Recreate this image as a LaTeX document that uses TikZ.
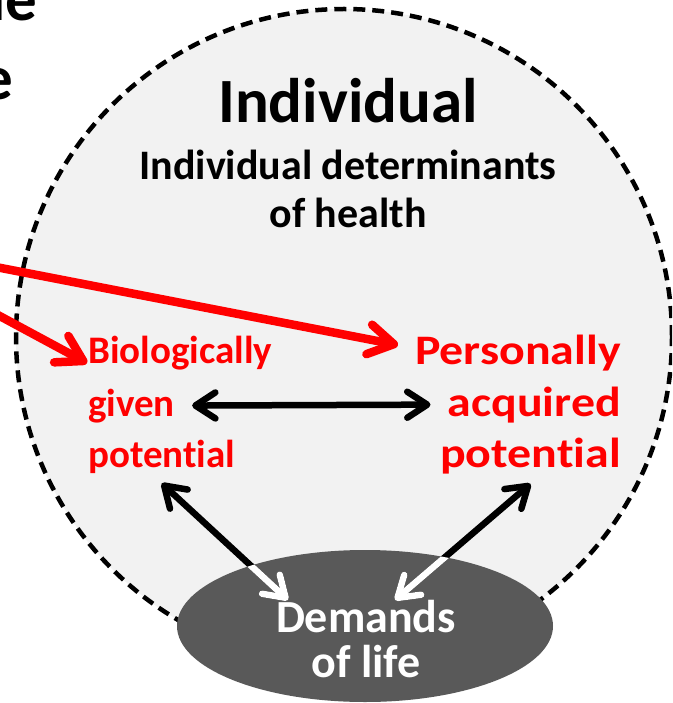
\documentclass[tikz,border=0pt]{standalone}
\usepackage{fontspec}
\setmainfont{Carlito}[Ligatures=CommonOff]
\newfontfamily\widefont{Carlito}[FakeStretch=1.14, Ligatures=CommonOff]
\usetikzlibrary{arrows.meta,shapes.geometric}

\definecolor{circlegray}{HTML}{F2F2F2}
\definecolor{demandgray}{HTML}{595959}
\definecolor{potred}{HTML}{FF0000}

\tikzset{
  redlabel/.style={text=potred, inner sep=0pt, font=\fontsize{39}{47}\selectfont\bfseries},
  wideredlabel/.style={text=potred, inner sep=0pt, font=\widefont\fontsize{42}{50}\selectfont\bfseries},
  titlelabel/.style={inner sep=0pt, font=\fontsize{63}{76}\selectfont\bfseries},
  sublabel/.style={inner sep=0pt, font=\fontsize{42}{50}\selectfont\bfseries},
  demandlabel/.style={text=white, inner sep=0pt, font=\fontsize{46}{55}\selectfont\bfseries},
  redbarb/.tip={Straight Barb[length=25pt,width=30pt,line cap=round,line join=round]},
  blackbarb/.tip={Straight Barb[length=20pt,width=26pt,line cap=round,line join=round]},
  redarrow/.style={draw=potred, line width=8.5pt, line cap=round, -redbarb},
  twoway/.style={line width=6.5pt, blackbarb-blackbarb},
}

\begin{document}
\begin{tikzpicture}[x=1pt,y=-1pt]

  \useasboundingbox (0,0) rectangle (672,703);
  \clip (0,0) rectangle (672,703);

  \node[titlelabel, anchor=base east] (cutone) at (37,21) {ne};
  \node[titlelabel, anchor=base east] (cuttwo) at (13,100) {e};

  \draw[fill=circlegray, line width=4.5pt, dash pattern=on 12pt off 7pt] (344,337) circle [radius=328pt];

  \node[titlelabel, anchor=base] (indiv) at (348,123) {Individual};
  \node[sublabel, anchor=base] (determ) at (348,180) {Individual determinants};
  \node[sublabel, anchor=base] (health) at (348,228) {of health};

  \node[redlabel, anchor=base west] (bioA) at (88,363) {Biologically};
  \node[redlabel, anchor=base west] (bioB) at (88,416) {given};
  \node[redlabel, anchor=base west] (bioC) at (88,467) {potential};

  \node[wideredlabel, anchor=base east] (persA) at (621,364) {Personally};
  \node[wideredlabel, anchor=base east] (persB) at (621,416) {acquired};
  \node[wideredlabel, anchor=base east] (persC) at (621,467) {potential};

  \coordinate (srcA) at (-30,262);
  \coordinate (srcB) at (-30,300);
  \draw[redarrow] (srcA) -- ([shift={(-17pt,19pt)}]persA.base west);
  \draw[redarrow] (srcB) -- ([xshift=-1pt]bioA.base west);

  \draw[twoway, shorten <=17pt, shorten >=17pt] (bioB.east) -- (persB.west);

  \node[ellipse, fill=demandgray, inner sep=0pt, minimum width=376pt, minimum height=152pt] (demand) at (365,626) {};
  \node[demandlabel, anchor=base] (demandA) at (366,632) {Demands};
  \node[demandlabel, anchor=base] (demandB) at (366,677) {of life};

  \coordinate (dmL) at (288,600);
  \coordinate (dmR) at (395,600);
  \draw[twoway] ([yshift=-10pt]bioC.south) -- (dmL);
  \draw[twoway] ([yshift=-10pt]persC.south) -- (dmR);

  \begin{scope}
    \clip (demand.center) ellipse [x radius=188pt, y radius=76pt];
    \draw[twoway, white] ([yshift=-10pt]bioC.south) -- (dmL);
    \draw[twoway, white] ([yshift=-10pt]persC.south) -- (dmR);
  \end{scope}

\end{tikzpicture}
\end{document}
